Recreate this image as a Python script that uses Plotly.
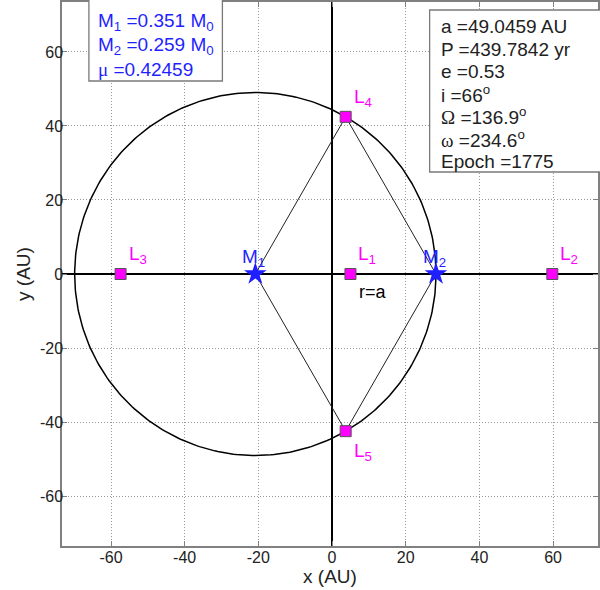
import numpy as np
import plotly.graph_objects as go

# ---- data ----
a = 49.0459          # AU
P = 439.7842         # yr
e = 0.53
inc = 66
Omega = 136.9
omega = 234.6
epoch = 1775
M1 = 0.351
M2 = 0.259
mu = 0.42459

mass_names = ["M<sub>1</sub>", "M<sub>2</sub>"]
mass_x = [-20.82, 28.22]
mass_y = [0.0, 0.0]

lag_names = ["L<sub>1</sub>", "L<sub>2</sub>", "L<sub>3</sub>", "L<sub>4</sub>", "L<sub>5</sub>"]
lag_x = [5.0, 59.8, -57.4, 3.70, 3.70]
lag_y = [0.0, 0.0, 0.0, 42.47, -42.47]

ticks = [-60, -40, -20, 0, 20, 40, 60]
tick_text = ["-60", "-40", "-20", "0", "20", "40", "60"]
xrange_ = [-73.3, 72.2]
yrange_ = [-73.5, 73.5]

FONT = "Arial"
SYM = "Liberation Serif"
BLUE = "#1f1fff"
MAG = "#ff00ff"

# plot-area geometry in pixels (used for boxes)
W, H = 600, 590
ML, MR, MT, MB = 62, 0, 2, 44
PW, PH = W - ML - MR, H - MT - MB


def px(xp):
    return (xp - ML) / PW


def py(yp):
    return (H - MB - yp) / PH


def sym(ch):
    return f'<span style="font-family:{SYM}">{ch}</span>'


fig = go.Figure()

# circle of radius a about M1
th = np.linspace(0, 2 * np.pi, 361)
fig.add_trace(go.Scatter(x=mass_x[0] + a * np.cos(th), y=mass_y[0] + a * np.sin(th),
                         mode="lines", line=dict(color="black", width=1.5),
                         hoverinfo="skip", showlegend=False))

# rhombus M1-L4-M2-L5-M1
fig.add_trace(go.Scatter(x=[mass_x[0], lag_x[3], mass_x[1], lag_x[4], mass_x[0]],
                         y=[mass_y[0], lag_y[3], mass_y[1], lag_y[4], mass_y[0]],
                         mode="lines", line=dict(color="#222222", width=1),
                         hoverinfo="skip", showlegend=False))

# Lagrange points
fig.add_trace(go.Scatter(x=lag_x, y=lag_y, mode="markers",
                         marker=dict(symbol="square", size=11, color=MAG,
                                     line=dict(color="#555555", width=1)),
                         showlegend=False))

# masses
fig.add_trace(go.Scatter(x=mass_x, y=mass_y, mode="markers",
                         marker=dict(symbol="star", size=17, color=BLUE,
                                     line=dict(color=BLUE, width=0)),
                         showlegend=False))

annotations = []
# Lagrange labels
for i, (n, x, y) in enumerate(zip(lag_names, lag_x, lag_y)):
    below = (i == 4)
    annotations.append(dict(x=x, y=y, xref="x", yref="y", text=n, showarrow=False,
                            xanchor="left", yanchor="top" if below else "bottom",
                            xshift=6, yshift=-7 if below else 5,
                            font=dict(family=FONT, size=19, color=MAG)))
# mass labels
for n, x, y in zip(mass_names, mass_x, mass_y):
    annotations.append(dict(x=x, y=y, xref="x", yref="y", text=n, showarrow=False,
                            xanchor="left", yanchor="bottom", xshift=-15, yshift=2,
                            font=dict(family=FONT, size=19, color=BLUE)))
# r=a label
annotations.append(dict(x=11.1, y=-4.9, xref="x", yref="y", text="r=a", showarrow=False,
                        xanchor="center", yanchor="middle",
                        font=dict(family=FONT, size=18, color="black")))

# left box text
left_lines = [f"M<sub>1</sub> ={M1} M<sub>0</sub>",
              f"M<sub>2</sub> ={M2} M<sub>0</sub>",
              f"{sym('μ')} ={mu}"]
left_y = [22, 45.5, 69]
for t, yy in zip(left_lines, left_y):
    annotations.append(dict(x=px(96), y=py(yy), xref="paper", yref="paper", text=t,
                            showarrow=False, xanchor="left", yanchor="middle",
                            font=dict(family=FONT, size=19, color=BLUE)))

# right box text
right_lines = [f"a ={a} AU", f"P ={P} yr", f"e ={e}",
               f"i ={inc}<sup>o</sup>", f"{sym('Ω')} ={Omega}<sup>o</sup>",
               f"{sym('ω')} ={omega}<sup>o</sup>", f"Epoch ={epoch}"]
right_y = [26.5, 49, 71.5, 94, 116.5, 139, 161.5]
for t, yy in zip(right_lines, right_y):
    annotations.append(dict(x=px(440), y=py(yy), xref="paper", yref="paper", text=t,
                            showarrow=False, xanchor="left", yanchor="middle",
                            font=dict(family=FONT, size=19, color="#222222")))

shapes = [
    dict(type="rect", xref="paper", yref="paper", x0=px(89), x1=px(223), y0=py(81), y1=py(-10),
         line=dict(color="#7a7a7a", width=1.3), fillcolor="white", layer="above"),
    dict(type="rect", xref="paper", yref="paper", x0=px(431), x1=px(640), y0=py(172), y1=py(10),
         line=dict(color="#7a7a7a", width=1.3), fillcolor="white", layer="above"),
]

axis_common = dict(tickvals=ticks, ticktext=tick_text, showgrid=True, gridcolor="#9a9a9a",
                   griddash="1px,2px",
                   gridwidth=1, zeroline=True, zerolinecolor="black", zerolinewidth=1.5,
                   showline=True, linecolor="#808080", linewidth=1.5, mirror="ticks",
                   ticks="inside", ticklen=5, tickcolor="#808080",
                   tickfont=dict(family=FONT, size=16, color="#222222"))

fig.update_layout(
    width=W, height=H, margin=dict(l=ML, r=MR, t=MT, b=MB, pad=0),
    paper_bgcolor="white", plot_bgcolor="white",
    xaxis=dict(range=xrange_, ticklabelstandoff=-4,
               title=dict(text="x (AU)", standoff=4,
                          font=dict(family=FONT, size=19, color="#222222")),
               **axis_common),
    yaxis=dict(range=yrange_, ticklabelstandoff=-6,
               title=dict(text="y (AU)", standoff=4,
                          font=dict(family=FONT, size=19, color="#222222")),
               **axis_common),
    annotations=annotations, shapes=shapes, showlegend=False,
)

fig.write_html("out.html")
